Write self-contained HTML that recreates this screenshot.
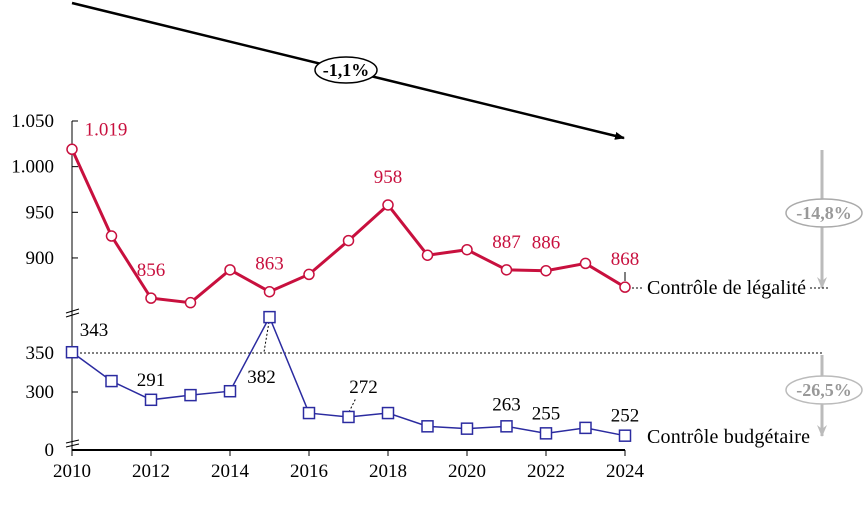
<!DOCTYPE html>
<html><head><meta charset="utf-8"><style>
body{margin:0;background:#fff;}
svg text{font-family:"Liberation Serif",serif;}
</style></head><body>
<svg id="chart" width="866" height="504" viewBox="0 0 866 504" xmlns="http://www.w3.org/2000/svg">
<defs>
<marker id="ab" markerWidth="10" markerHeight="8" refX="9" refY="4" orient="auto" markerUnits="userSpaceOnUse"><path d="M0,0 L10,4 L0,8 Z" fill="#000"/></marker>
<marker id="ag" markerWidth="10" markerHeight="12" refX="5" refY="11" orient="0" markerUnits="userSpaceOnUse"><path d="M0,0 L5,12 L10,0 L5,4 Z" fill="#bbb"/></marker>
</defs>
<g id="static">
<line x1="72" y1="3" x2="624" y2="138" stroke="#000" stroke-width="2.5" marker-end="url(#ab)"/>
<ellipse cx="346" cy="70" rx="31" ry="13" fill="#fff" stroke="#000" stroke-width="1.5"/>
<text x="346" y="76" text-anchor="middle" font-size="18" font-weight="bold">-1,1%</text>
<line x1="822" y1="150" x2="822" y2="288" stroke="#bbb" stroke-width="3" marker-end="url(#ag)"/>
<ellipse cx="824" cy="213" rx="38" ry="14" fill="#fff" stroke="#aaa" stroke-width="1.5"/>
<text x="824" y="219" text-anchor="middle" font-size="18" font-weight="bold" fill="#999">-14,8%</text>
<line x1="822" y1="355" x2="822" y2="436" stroke="#bbb" stroke-width="3" marker-end="url(#ag)"/>
<ellipse cx="824" cy="390" rx="38" ry="14" fill="#fff" stroke="#bbb" stroke-width="1.5"/>
<text x="824" y="396" text-anchor="middle" font-size="18" font-weight="bold" fill="#999">-26,5%</text>
<line x1="72" y1="353" x2="822" y2="353" stroke="#000" stroke-width="1" stroke-dasharray="2,2"/>
<line x1="632" y1="288" x2="644" y2="288" stroke="#000" stroke-dasharray="2,2"/>
<line x1="810" y1="288" x2="830" y2="288" stroke="#000" stroke-dasharray="2,2"/>
<text x="647" y="294" font-size="20" textLength="159">Contrôle de légalité</text>
<text x="647" y="443" font-size="20" textLength="163">Contrôle budgétaire</text>
<line x1="72" y1="121" x2="72" y2="450" stroke="#000" stroke-width="1"/>
<line x1="72" y1="450" x2="625" y2="450" stroke="#000" stroke-width="2"/>
<g stroke="#000"><line x1="66" y1="313" x2="79" y2="309"/><line x1="66" y1="317" x2="79" y2="313"/></g>
<g stroke="#000"><line x1="66" y1="443" x2="79" y2="440"/><line x1="66" y1="447" x2="79" y2="444"/></g>
<text x="54" y="456" text-anchor="end" font-size="19">0</text>
<line x1="269" y1="322" x2="264" y2="352" stroke="#000" stroke-dasharray="2,2"/>
<line x1="349" y1="412" x2="356" y2="398" stroke="#000" stroke-dasharray="2,2"/>
<line x1="625" y1="272" x2="625" y2="281" stroke="#000"/>
</g>
<g id="dyn"></g>
</svg>
<script>
const years=[2010,2011,2012,2013,2014,2015,2016,2017,2018,2019,2020,2021,2022,2023,2024];
const legalite=[1019,924,856,851,887,863,882,919,958,903,909,887,886,894,868];
const budgetaire=[351,314,290,296,301,396,273,268,273,256,253,256,247,254,244];
const legaliteLabels=[[2010,"1.019"],[2012,"856"],[2015,"863"],[2018,"958"],[2021,"887"],[2022,"886"],[2024,"868"]];
const budgetaireLabels=[[2010,"343"],[2012,"291"],[2015,"382"],[2017,"272"],[2021,"263"],[2022,"255"],[2024,"252"]];
const upperTicks=[1050,1000,950,900];
const upperTickLabels=["1.050","1.000","950","900"];
const lowerTicks=[350,300];
const xTicks=[2010,2012,2014,2016,2018,2020,2022,2024];
const NS="http://www.w3.org/2000/svg";
const g=document.getElementById('dyn');
const X=y=>72+(y-2010)*(553/14);
const YU=v=>121+(1050-v)*0.913;
const YL=v=>353+(350-v)*0.78;
function mk(t,a,p){const e=document.createElementNS(NS,t);for(const k in a)e.setAttribute(k,a[k]);(p||g).appendChild(e);return e;}
upperTicks.forEach((v,i)=>{
 const l=mk('line',{x1:72,x2:78,y1:YU(v),y2:YU(v),stroke:'#000'});
 
 
 const t=mk('text',{x:54,y:YU(v)+6,'text-anchor':'end','font-size':19});t.textContent=upperTickLabels[i];
 
 
});
lowerTicks.forEach(v=>{
 const l=mk('line',{x1:72,x2:78,y1:YL(v),y2:YL(v),stroke:'#000'});
 
 
 const t=mk('text',{x:54,y:YL(v)+6,'text-anchor':'end','font-size':19});t.textContent=String(v);
 
 
});
xTicks.forEach(y=>{
 const l=mk('line',{x1:X(y),x2:X(y),y1:450,y2:456,stroke:'#000'});
 
 
 const t=mk('text',{x:X(y),y:477,'text-anchor':'middle','font-size':19});t.textContent=String(y);
 
 
});
const pl=mk('polyline',{points:years.map((y,i)=>X(y)+','+YU(legalite[i])).join(' '),fill:'none',stroke:'#c8103e','stroke-width':3});


years.forEach((y,i)=>{
 const c=mk('circle',{cx:X(y),cy:YU(legalite[i]),r:5,fill:'#fff',stroke:'#c8103e','stroke-width':1.5});
 
 
});
const pb=mk('polyline',{points:years.map((y,i)=>X(y)+','+YL(budgetaire[i])).join(' '),fill:'none',stroke:'#2b2ba0','stroke-width':1.5});


years.forEach((y,i)=>{
 const r=mk('rect',{x:X(y)-5.5,y:YL(budgetaire[i])-5.5,width:11,height:11,fill:'#fff',stroke:'#2b2ba0','stroke-width':1.5});
 
 
});
legaliteLabels.forEach(([y,s])=>{
 const i=years.indexOf(y);
 const dx=(y===2010)?34:0;
 const t=mk('text',{x:X(y)+dx,y:YU(legalite[i])-(y===2010?14:22),'text-anchor':'middle','font-size':19,fill:'#c8103e'});t.textContent=s;
 
 
});
budgetaireLabels.forEach(([y,s])=>{
 const i=years.indexOf(y);
 let dx=0,dy=-14;
 if(y===2010){dx=22;dy=-16;}
 if(y===2015){dx=-8;dy=66;}
 if(y===2017){dx=15;dy=-24;}
 if(y===2021){dy=-16;}
 const t=mk('text',{x:X(y)+dx,y:YL(budgetaire[i])+dy,'text-anchor':'middle','font-size':19});t.textContent=s;
 
 
});
</script>
</body></html>
